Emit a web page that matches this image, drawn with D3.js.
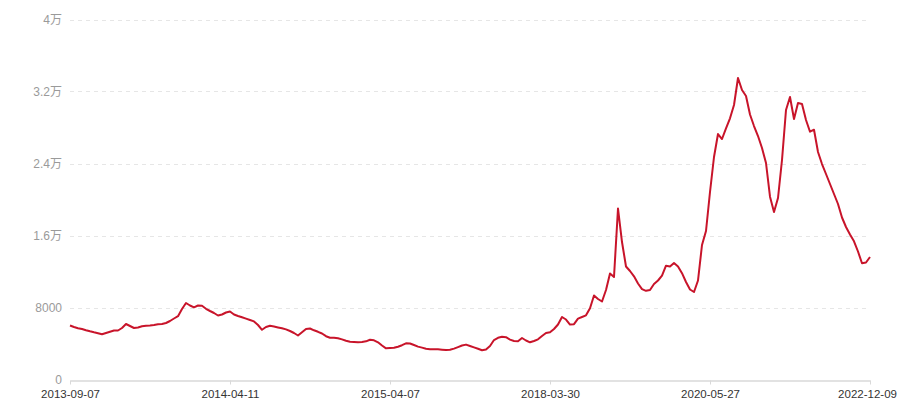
<!DOCTYPE html>
<html>
<head>
<meta charset="utf-8">
<script src="https://cdn.jsdelivr.net/npm/d3@7/dist/d3.min.js"></script>
<style>
  html, body { margin: 0; padding: 0; background: #fff; }
  svg { display: block; font-family: "Liberation Sans", "Noto Sans CJK SC", sans-serif; }
</style>
</head>
<body>
<svg id="chart" width="900" height="400"></svg>
<script>
// Tick labels on the category axis (every 40th point)
const tickLabels = ["2013-09-07", "2014-04-11", "2015-04-07", "2018-03-30", "2020-05-27", "2022-12-09"];
const tickEvery = 40;

// Y axis ticks
const yTicks = [0, 8000, 16000, 24000, 32000, 40000];

// Series values
const values = [
  6000, 5833, 5700, 5611, 5477, 5355, 5244, 5144, 5022, 5166,
  5300, 5444, 5444, 5722, 6166, 5944, 5722, 5777, 5911, 5966,
  6000, 6055, 6133, 6166, 6277, 6500, 6777, 7033, 7833, 8500,
  8222, 8022, 8222, 8188, 7855, 7611, 7388, 7111, 7222, 7444,
  7555, 7222, 7055, 6911, 6766, 6611, 6455, 6055, 5522, 5833,
  5966, 5888, 5788, 5688, 5566, 5388, 5166, 4888, 5244, 5611,
  5666, 5466, 5300, 5111, 4811, 4644, 4644, 4577, 4455, 4300,
  4188, 4166, 4133, 4166, 4244, 4422, 4355, 4133, 3777, 3466,
  3500, 3522, 3644, 3811, 4022, 4000, 3833, 3655, 3544, 3422,
  3355, 3355, 3355, 3311, 3266, 3300, 3433, 3600, 3777, 3877,
  3722, 3566, 3411, 3244, 3333, 3722, 4388, 4633, 4744, 4700,
  4433, 4277, 4244, 4611, 4333, 4133, 4277, 4466, 4833, 5166,
  5244, 5611, 6111, 6944, 6666, 6111, 6144, 6766, 6944, 7133,
  7911, 9333, 8944, 8666, 9944, 11777, 11388, 19000, 15277, 12555,
  12055, 11466, 10666, 10044, 9855, 9944, 10611, 11000, 11555, 12644,
  12555, 12944, 12566, 11810, 10833, 10000, 9722, 11000, 14944, 16500,
  20833, 24722, 27277, 26722, 27911, 29022, 30500, 33500, 32166, 31500,
  29444, 28166, 27055, 25722, 24055, 20311, 18611, 20166, 24388, 29944,
  31388, 28944, 30722, 30611, 28833, 27533, 27755, 25277, 23944, 22833,
  21722, 20611, 19500, 18000, 16944, 16111, 15355, 14222, 12911, 13000,
  13611
];

const svg = d3.select("#chart");
const margin = { left: 70, right: 30, top: 19.5, bottom: 20.5 };
const W = 900, H = 400;

const x = d3.scalePoint()
  .domain(d3.range(values.length))
  .range([margin.left, W - margin.right]);

const y = d3.scaleLinear()
  .domain([0, 40000])
  .range([H - margin.bottom, margin.top]);

function fmtY(v) {
  if (v === 0) return "0";
  if (v >= 10000) return (v / 10000) + "万";
  return String(v);
}

// Grid lines
svg.append("g")
  .selectAll("line")
  .data(yTicks.filter(d => d > 0))
  .join("line")
  .attr("x1", margin.left)
  .attr("x2", W - margin.right)
  .attr("y1", d => Math.round(y(d)) + 0.5)
  .attr("y2", d => Math.round(y(d)) + 0.5)
  .attr("stroke", "#e6e6e6")
  .attr("stroke-width", 1)
  .attr("stroke-dasharray", "4,4");

// Y axis labels
const yAxis = d3.axisLeft(y).tickValues(yTicks).tickFormat(fmtY).tickSize(0).tickPadding(8);
const gy = svg.append("g")
  .attr("transform", `translate(${margin.left},0)`)
  .call(yAxis);
gy.select(".domain").remove();
gy.selectAll("text")
  .attr("fill", "#9a9a9a")
  .attr("font-size", 12)
  .attr("font-family", "\"Liberation Sans\", \"Noto Sans CJK SC\", sans-serif");

// X axis
const tickIdx = d3.range(0, values.length, tickEvery);
const xAxis = d3.axisBottom(x)
  .tickValues(tickIdx)
  .tickFormat(i => tickLabels[i / tickEvery])
  .tickSize(4)
  .tickSizeOuter(0);
const gx = svg.append("g")
  .attr("transform", `translate(0,${Math.round(y(0)) + 0.5})`)
  .call(xAxis);
gx.select(".domain").attr("stroke", "#d9d9d9").attr("stroke-width", 1.5);
gx.selectAll(".tick line").attr("stroke", "#d9d9d9");
gx.selectAll("text")
  .attr("y", 17)
  .attr("dy", "0")
  .attr("fill", "#333")
  .attr("font-size", 11.5)
  .attr("font-family", "\"Liberation Sans\", sans-serif");
// keep the last label inside the picture, as in the reference
gx.selectAll(".tick").filter((d, i, n) => i === n.length - 1)
  .select("text").attr("dx", -3);

// Line
const line = d3.line()
  .x((d, i) => x(i))
  .y(d => y(d));

svg.append("path")
  .datum(values)
  .attr("fill", "none")
  .attr("stroke", "#c8142a")
  .attr("stroke-width", 2)
  .attr("stroke-linejoin", "round")
  .attr("d", line);
</script>
</body>
</html>
